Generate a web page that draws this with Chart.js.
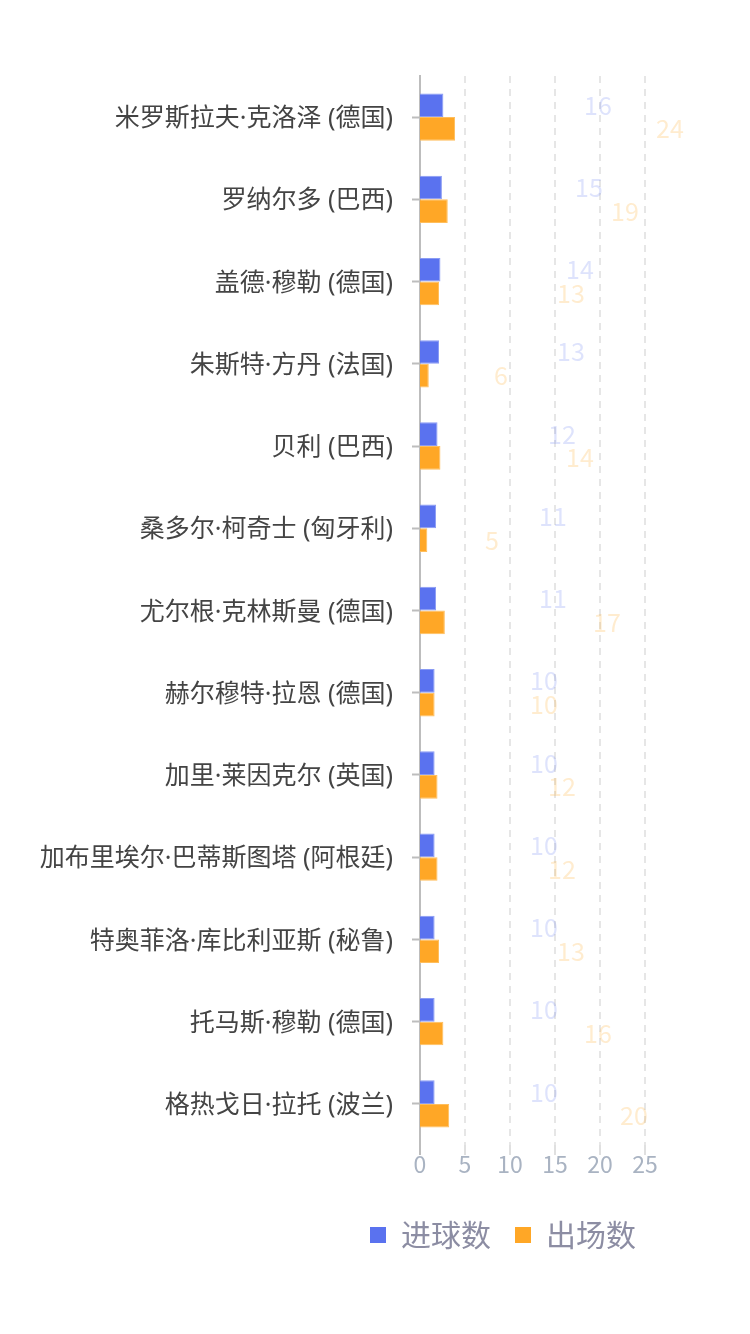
<!DOCTYPE html>
<html>
<head>
<meta charset="utf-8">
<script src="https://cdn.jsdelivr.net/npm/chart.js@4.4.1/dist/chart.umd.min.js"></script>
<style>
html,body{margin:0;padding:0;background:#ffffff;}
#wrap{position:relative;width:750px;height:1334px;}
</style>
</head>
<body>
<div id="wrap"><canvas id="c"></canvas></div>
<script>
// ---- data ----
const players = [
  '米罗斯拉夫·克洛泽 (德国)',
  '罗纳尔多 (巴西)',
  '盖德·穆勒 (德国)',
  '朱斯特·方丹 (法国)',
  '贝利 (巴西)',
  '桑多尔·柯奇士 (匈牙利)',
  '尤尔根·克林斯曼 (德国)',
  '赫尔穆特·拉恩 (德国)',
  '加里·莱因克尔 (英国)',
  '加布里埃尔·巴蒂斯图塔 (阿根廷)',
  '特奥菲洛·库比利亚斯 (秘鲁)',
  '托马斯·穆勒 (德国)',
  '格热戈日·拉托 (波兰)'
];
const goals = [16, 15, 14, 13, 12, 11, 11, 10, 10, 10, 10, 10, 10];
const apps  = [24, 19, 13, 6, 14, 5, 17, 10, 12, 12, 13, 16, 20];
const seriesNames = ['进球数', '出场数'];
const axisTicks = [0, 5, 10, 15, 20, 25];

// ---- styles ----
const FONT = "'Noto Sans CJK SC', 'Noto Sans', sans-serif";
const LABEL_FONT = "'Noto Sans', 'Noto Sans CJK SC', sans-serif";
const barColors = ['#5a72ef', '#ffa726'];
const barBorders = ['#8a9bf4', '#ffbe5c'];
const labelColors = ['rgba(90,114,239,0.2)', 'rgba(255,167,38,0.22)'];

Chart.defaults.font.family = FONT;

const valueLabels = {
  id: 'valueLabels',
  afterDatasetsDraw(chart) {
    const ctx = chart.ctx;
    const xs = chart.scales.x;
    ctx.save();
    ctx.font = '25px ' + FONT;
    ctx.textAlign = 'left';
    ctx.textBaseline = 'middle';
    chart.data.datasets.forEach((ds, i) => {
      const meta = chart.getDatasetMeta(i);
      ctx.fillStyle = labelColors[i];
      meta.data.forEach((bar, j) => {
        const v = ds.data[j];
        ctx.fillText(String(v), xs.getPixelForValue(v) + 20, bar.y);
      });
    });
    ctx.restore();
  }
};

new Chart(document.getElementById('c'), {
  type: 'bar',
  data: {
    labels: players,
    datasets: [
      { label: seriesNames[0], data: goals, backgroundColor: barColors[0], borderColor: barBorders[0], borderWidth: 1, xAxisID: 'xb', yAxisID: 'y' },
      { label: seriesNames[1], data: apps,  backgroundColor: barColors[1], borderColor: barBorders[1], borderWidth: 1, xAxisID: 'xb', yAxisID: 'y' }
    ]
  },
  options: {
    indexAxis: 'y',
    responsive: true,
    maintainAspectRatio: false,
    animation: false,
    categoryPercentage: 0.576,
    barPercentage: 1,
    layout: { padding: { left: 20, right: 90, top: 76, bottom: 74 } },
    plugins: {
      tooltip: { enabled: false },
      legend: {
        position: 'bottom',
        align: 'end',
        labels: {
          boxWidth: 16, boxHeight: 16, padding: 24,
          color: '#8c8da3',
          font: { size: 30, family: FONT },
          generateLabels(chart) {
            return chart.data.datasets.map((ds, i) => ({
              text: ds.label, fillStyle: barColors[i], strokeStyle: barColors[i],
              lineWidth: 0, hidden: false, datasetIndex: i, fontColor: '#8c8da3'
            }));
          }
        }
      }
    },
    scales: {
      y: {
        type: 'category',
        position: 'left',
        afterFit(s) { s.width = 400; },
        grid: { display: true, drawOnChartArea: false, offset: false, tickLength: 8, tickColor: '#bdbdbd', tickWidth: 2 },
        border: { display: true, color: '#bdbdbd', width: 2 },
        ticks: { color: '#444444', padding: 19, labelOffset: 2, autoSkip: false, font: { size: 25, family: LABEL_FONT } }
      },
      yRight: {
        axis: 'y',
        type: 'linear',
        position: 'right',
        afterFit(s) { s.width = 15; },
        grid: { display: false },
        border: { display: false },
        ticks: { display: false }
      },
      x: {
        type: 'linear',
        position: 'bottom',
        min: 0, max: 25,
        afterBuildTicks(s) { s.ticks = axisTicks.map(v => ({ value: v })); },
        afterFit(s) { s.height = 51; },
        border: { display: false, dash: [7, 6] },
        grid: {
          color: (c) => c.index === 0 ? '#bdbdbd' : '#e6e6e6',
          lineWidth: 2,
          tickLength: 10,
          tickColor: (c) => c.index === 0 ? '#bdbdbd' : '#e0e0e0',
          tickWidth: 2
        },
        ticks: { color: '#a9b3c2', padding: -5, maxRotation: 0, font: { size: 23, family: FONT } }
      },
      xb: {
        axis: 'x',
        type: 'linear',
        display: false,
        min: 0, max: 154
      }
    }
  },
  plugins: [valueLabels]
});
</script>
</body>
</html>
